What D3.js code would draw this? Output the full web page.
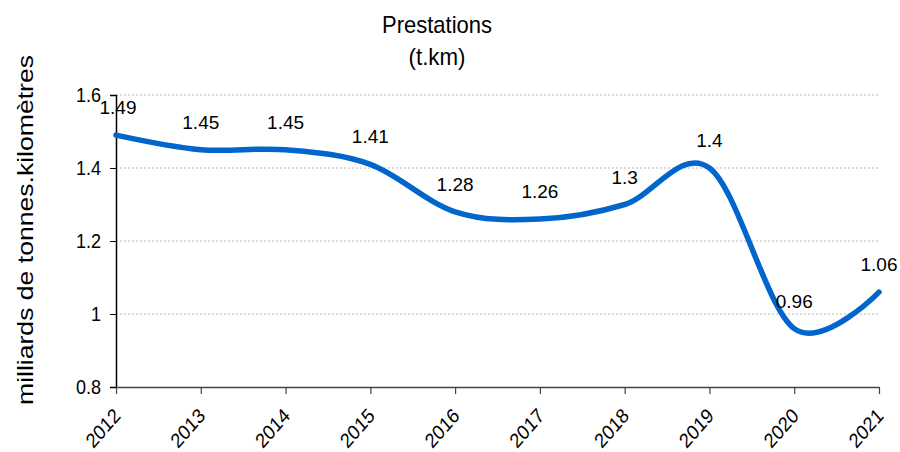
<!DOCTYPE html>
<html>
<head>
<meta charset="utf-8">
<script src="https://cdn.jsdelivr.net/npm/d3@7"></script>
<style>
body { margin: 0; background: #fff; }
svg { font-family: "Liberation Sans", Arial, sans-serif; }
</style>
</head>
<body>
<svg width="900" height="452"></svg>
<script>
var years = ["2012", "2013", "2014", "2015", "2016", "2017", "2018", "2019", "2020", "2021"];
var values = [1.49, 1.45, 1.45, 1.41, 1.28, 1.26, 1.3, 1.4, 0.96, 1.06];
var yTicks = [0.8, 1, 1.2, 1.4, 1.6];

var svg = d3.select("svg"),
margin = {top: 95, right: 21, bottom: 65, left: 116},
width = +svg.attr("width") - margin.left - margin.right,
height = +svg.attr("height") - margin.top - margin.bottom,
g = svg.append("g").attr("transform", "translate(" + margin.left + "," + margin.top + ")");

var x = d3.scalePoint()
.domain(years)
.range([0, width]);

var y = d3.scaleLinear()
.domain([0.8, 1.6])
.range([height, 0]);

// gridlines
g.append("g")
.selectAll("line")
.data(yTicks.slice(1))
.enter().append("line")
.attr("x1", 0)
.attr("x2", width)
.attr("y1", function(d) { return y(d); })
.attr("y2", function(d) { return y(d); })
.attr("stroke", "#bbb")
.attr("stroke-width", 1)
.attr("stroke-dasharray", "2,2");

// y axis
var yAxis = g.append("g")
.call(d3.axisLeft(y).tickValues(yTicks).tickSize(6).tickFormat(function(d) { return d3.format("")(d); }));
yAxis.select(".domain").attr("stroke", "#000").attr("stroke-width", 1.5);
yAxis.selectAll(".tick line").attr("stroke", "#000");
yAxis.selectAll("text")
.style("font-size", "20.5px")
.style("font-family", "'Liberation Sans', Arial, sans-serif")
.attr("fill", "#000")
.attr("x", 0)
.attr("transform", "translate(-15,0) scale(0.88,1)");

// x axis
var xAxis = g.append("g")
.attr("transform", "translate(0," + height + ")")
.call(d3.axisBottom(x).tickSize(7).tickSizeOuter(0));
xAxis.select(".domain").attr("stroke", "#444").attr("stroke-width", 1.5);
xAxis.selectAll(".tick line").attr("stroke", "#444").attr("stroke-width", 1.2);
xAxis.selectAll("text")
.style("font-size", "20.5px")
.style("font-family", "'Liberation Sans', Arial, sans-serif")
.attr("fill", "#000")
.attr("text-anchor", "end")
.attr("dy", null)
.attr("y", 0)
.attr("transform", "translate(5,30) scale(0.88,1) rotate(-45)");

// line
var line = d3.line()
.x(function(d, i) { return x(years[i]); })
.y(function(d) { return y(d); })
.curve(d3.curveCardinal.tension(0));

g.append("path")
.datum(values)
.attr("fill", "none")
.attr("stroke", "#0066cc")
.attr("stroke-width", 5.5)
.attr("stroke-linecap", "round")
.attr("d", line);

// value labels
g.append("g")
.selectAll("text")
.data(values)
.enter().append("text")
.attr("x", function(d, i) { return x(years[i]) + (i === 0 ? 2 : 0); })
.attr("y", function(d) { return y(d) - 21; })
.attr("text-anchor", "middle")
.style("font-size", "19px")
.attr("fill", "#000")
.text(function(d) { return d; });

// title
svg.append("text")
.attr("x", 437)
.attr("y", 33)
.attr("text-anchor", "middle")
.style("font-size", "24px")
.attr("textLength", 110)
.attr("lengthAdjust", "spacingAndGlyphs")
.text("Prestations");
svg.append("text")
.attr("x", 437)
.attr("y", 65)
.attr("text-anchor", "middle")
.style("font-size", "24px")
.attr("textLength", 57)
.attr("lengthAdjust", "spacingAndGlyphs")
.text("(t.km)");

// y-axis label
svg.append("text")
.attr("transform", "rotate(-90)")
.attr("x", -230)
.attr("y", 33)
.attr("text-anchor", "middle")
.style("font-size", "22px")
.attr("textLength", 350)
.attr("lengthAdjust", "spacingAndGlyphs")
.attr("fill", "#000")
.text("milliards de tonnes.kilomètres");
</script>
</body>
</html>
